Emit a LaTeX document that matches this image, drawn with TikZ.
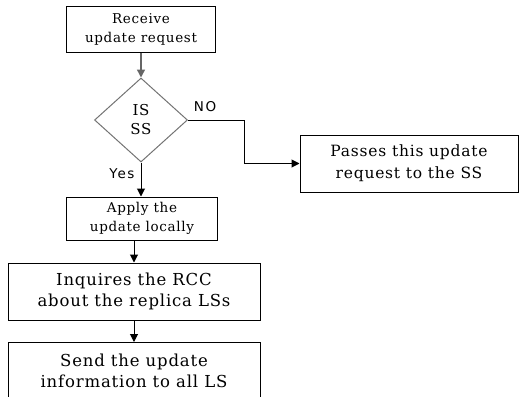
\documentclass[tikz,border=0pt]{standalone}
\usepackage{fontspec}
\setmainfont{DejaVu Serif}[LetterSpace=5]
\newfontfamily\lblfont{DejaVu Sans}[LetterSpace=12]
\usetikzlibrary{shapes.geometric,arrows.meta}
\tikzset{
  box/.style={draw=black, line width=1pt, align=center, inner sep=0pt, fill=white},
  dec/.style={diamond, draw=black!55, line width=1pt, align=center, inner sep=0pt},
  conn/.style={draw=black, line width=1pt, -{Triangle[length=8pt,width=8pt]}},
  lbl/.style={font=\lblfont\fontsize{13.5}{15}\selectfont, inner sep=0pt},
  sm/.style={font=\fontsize{13.5}{19}\selectfont},
  dm/.style={font=\fontsize{15}{19}\selectfont},
  md/.style={font=\fontsize{15.5}{22}\selectfont},
  lg/.style={font=\fontsize{16.5}{21}\selectfont}
}
\begin{document}
\begin{tikzpicture}[x=1pt,y=-1pt]
\useasboundingbox (0,0) rectangle (529,396);
\clip (0,0) rectangle (529,396);
\node[box, sm, minimum width=149pt, minimum height=45pt] (recv) at (141,29.5) {Receive\\update request};
\node[dec, dm, minimum width=93pt, minimum height=84pt] (isss) at (141,120) {IS\\SS};
\node[box, md, minimum width=218pt, minimum height=57pt] (pass) at (409,163.5) {Passes this update\\request to the SS};
\node[box, sm, minimum width=151pt, minimum height=43pt] (apply) at (142,218.5) {Apply the\\update locally};
\node[box, lg, minimum width=252pt, minimum height=57pt] (inq) at (134,291.5) {Inquires the RCC\\about the replica LSs};
\node[box, lg, minimum width=252pt, minimum height=56pt, anchor=north] (send) at (134,342) {Send the update\\information to all LS};
\coordinate (bend) at (244,120);
\draw[conn, draw=black!60, line width=1.5pt] (recv.south -| isss.north) -- (isss.north);
\draw[conn] (isss.east) -- (bend) |- (pass.west);
\draw[conn] (isss.south) -- (isss.south |- apply.north);
\draw[conn] (apply.south -| inq.north) -- (inq.north);
\draw[conn] (inq.south) -- (send.north);
\node[lbl] (no) at (205,107) {NO};
\node[lbl] (yes) at (122,174) {Yes};
\end{tikzpicture}
\end{document}
